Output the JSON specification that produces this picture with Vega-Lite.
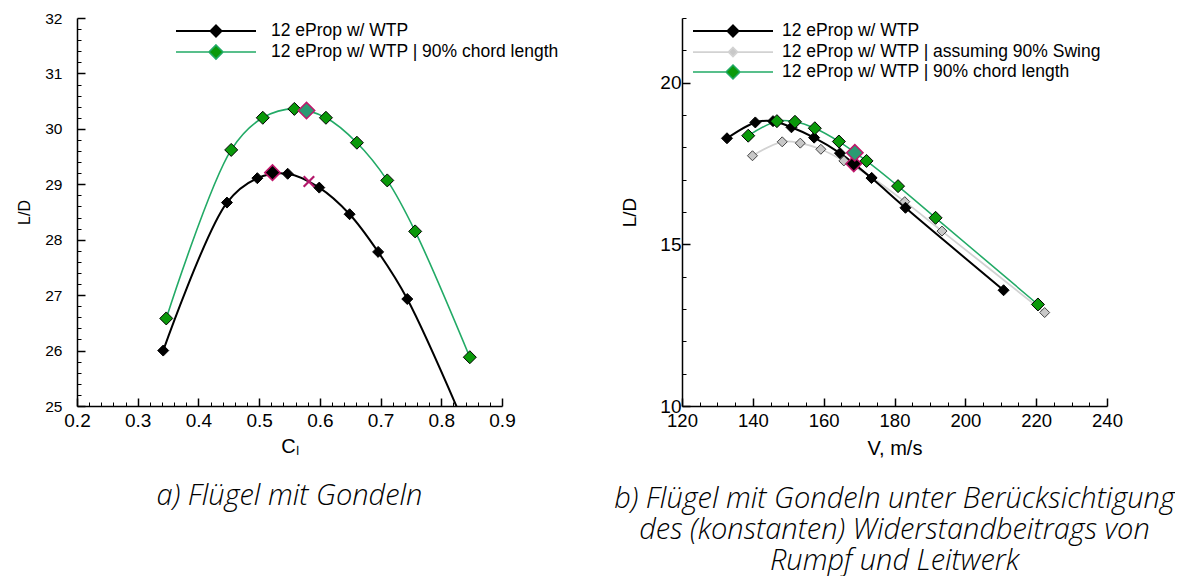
{
  "$schema": "https://vega.github.io/schema/vega-lite/v6.json",
  "padding": {"left": 16, "top": 11, "right": 0, "bottom": 0},
  "spacing": 55,
  "resolve": {
    "scale": {"stroke": "independent", "fill": "independent", "shape": "independent", "strokeWidth": "independent"},
    "legend": {"stroke": "independent", "fill": "independent", "shape": "independent", "strokeWidth": "independent"}
  },
  "hconcat": [
    {
      "width": 425,
      "height": 388,
      "title": {
        "text": "a) Flügel mit Gondeln",
        "orient": "bottom", "anchor": "middle", "frame": "group",
        "font": "Open Sans", "fontStyle": "italic", "fontWeight": 300, "fontSize": 29,
        "color": "black", "offset": 26
      },
      "data": {
        "values": [
          {"series": "12 eProp w/ WTP", "kind": "run", "cl": 0.342, "ld": 26.0},
          {"series": "12 eProp w/ WTP", "kind": "run", "cl": 0.447, "ld": 28.67},
          {"series": "12 eProp w/ WTP", "kind": "run", "cl": 0.497, "ld": 29.11},
          {"series": "12 eProp w/ WTP", "kind": "run", "cl": 0.547, "ld": 29.19},
          {"series": "12 eProp w/ WTP", "kind": "run", "cl": 0.599, "ld": 28.94},
          {"series": "12 eProp w/ WTP", "kind": "run", "cl": 0.649, "ld": 28.46},
          {"series": "12 eProp w/ WTP", "kind": "run", "cl": 0.696, "ld": 27.78},
          {"series": "12 eProp w/ WTP", "kind": "run", "cl": 0.744, "ld": 26.93},
          {"series": "12 eProp w/ WTP", "kind": "run", "cl": 0.86, "ld": 24.1},
          {"series": "12 eProp w/ WTP | 90% chord length", "kind": "run", "cl": 0.347, "ld": 26.58},
          {"series": "12 eProp w/ WTP | 90% chord length", "kind": "run", "cl": 0.454, "ld": 29.62},
          {"series": "12 eProp w/ WTP | 90% chord length", "kind": "run", "cl": 0.506, "ld": 30.2},
          {"series": "12 eProp w/ WTP | 90% chord length", "kind": "run", "cl": 0.558, "ld": 30.36},
          {"series": "12 eProp w/ WTP | 90% chord length", "kind": "run", "cl": 0.61, "ld": 30.2},
          {"series": "12 eProp w/ WTP | 90% chord length", "kind": "run", "cl": 0.661, "ld": 29.75},
          {"series": "12 eProp w/ WTP | 90% chord length", "kind": "run", "cl": 0.711, "ld": 29.07},
          {"series": "12 eProp w/ WTP | 90% chord length", "kind": "run", "cl": 0.757, "ld": 28.15},
          {"series": "12 eProp w/ WTP | 90% chord length", "kind": "run", "cl": 0.847, "ld": 25.88},
          {"series": "12 eProp w/ WTP", "kind": "design", "cl": 0.522, "ld": 29.21},
          {"series": "12 eProp w/ WTP | 90% chord length", "kind": "design", "cl": 0.578, "ld": 30.33},
          {"series": "12 eProp w/ WTP", "kind": "cross", "cl": 0.582, "ld": 29.05}
        ]
      },
      "resolve": {"axis": {"x": "independent", "y": "independent"}},
      "layer": [
        {
          "transform": [{"filter": "false"}],
          "mark": {"type": "point", "opacity": 1},
          "encoding": {
            "x": {
              "field": "cl", "type": "quantitative",
              "scale": {"domain": [0.2, 0.9], "nice": false, "zero": false},
              "axis": {
                "orient": "bottom", "title": null, "labels": false, "domain": false,
                "tickSize": -4, "tickWidth": 1,
                "values": [0.22, 0.24, 0.26, 0.28, 0.32, 0.34, 0.36, 0.38, 0.42, 0.44, 0.46, 0.48, 0.52, 0.54, 0.56, 0.58, 0.62, 0.64, 0.66, 0.68, 0.72, 0.74, 0.76, 0.78, 0.82, 0.84, 0.86, 0.88]
              }
            },
            "y": {
              "field": "ld", "type": "quantitative",
              "scale": {"domain": [25, 32], "nice": false, "zero": false},
              "axis": {
                "orient": "left", "title": null, "labels": false, "domain": false,
                "tickSize": -4, "tickWidth": 1,
                "values": [25.2, 25.4, 25.6, 25.8, 26.2, 26.4, 26.6, 26.8, 27.2, 27.4, 27.6, 27.8, 28.2, 28.4, 28.6, 28.8, 29.2, 29.4, 29.6, 29.8, 30.2, 30.4, 30.6, 30.8, 31.2, 31.4, 31.6, 31.8]
              }
            },
            "shape": {
              "field": "series", "type": "nominal",
              "scale": {
                "domain": ["12 eProp w/ WTP", "12 eProp w/ WTP | 90% chord length"],
                "range": ["M-4,0H-0.55M0.55,0H4M0,-0.55L0.55,0L0,0.55L-0.55,0Z", "M-4,0H-0.7M0.7,0H4M0,-0.7L0.7,0L0,0.7L-0.7,0Z"]
              },
              "legend": {"title": null, "orient": "none", "legendX": 99, "legendY": 2}
            }
          }
        },
        {
          "transform": [{"filter": "datum.kind === 'run'"}],
          "mark": {"type": "line", "interpolate": "catmull-rom", "clip": true},
          "encoding": {
            "x": {
              "field": "cl", "type": "quantitative",
              "axis": {
                "orient": "bottom", "title": "Cₗ", "titleFontSize": 20, "titlePadding": 6,
                "values": [0.2, 0.3, 0.4, 0.5, 0.6, 0.7, 0.8, 0.9], "format": ".1f",
                "tickSize": -8, "tickWidth": 1.5, "domainWidth": 1.5,
                "labelFontSize": 19, "labelPadding": 13
              }
            },
            "y": {
              "field": "ld", "type": "quantitative",
              "axis": {
                "orient": "left", "title": "L/D", "titleFontSize": 16, "titlePadding": 12,
                "values": [25, 26, 27, 28, 29, 30, 31, 32],
                "tickSize": -8, "tickWidth": 1.5, "domainWidth": 1.5,
                "labelFontSize": 15.5, "labelPadding": 23
              }
            },
            "stroke": {
              "field": "series", "type": "nominal",
              "scale": {"domain": ["12 eProp w/ WTP", "12 eProp w/ WTP | 90% chord length"], "range": ["#000000", "#22aa66"]},
              "legend": {"title": null, "orient": "none", "legendX": 99, "legendY": 2}
            },
            "strokeWidth": {
              "field": "series", "type": "nominal",
              "scale": {"domain": ["12 eProp w/ WTP", "12 eProp w/ WTP | 90% chord length"], "range": [2, 1.6]},
              "legend": {"title": null, "orient": "none", "legendX": 99, "legendY": 2}
            }
          }
        },
        {
          "transform": [{"filter": "datum.kind === 'run' && datum.series === '12 eProp w/ WTP'"}],
          "mark": {"type": "point", "shape": "diamond", "filled": true, "opacity": 1, "size": 121, "stroke": "#000000", "strokeWidth": 1, "clip": true},
          "encoding": {
            "x": {"field": "cl", "type": "quantitative", "axis": null},
            "y": {"field": "ld", "type": "quantitative", "axis": null},
            "fill": {
              "field": "series", "type": "nominal",
              "scale": {"domain": ["12 eProp w/ WTP", "12 eProp w/ WTP | 90% chord length"], "range": ["#000000", "#0a990a"]},
              "legend": {"title": null, "orient": "none", "legendX": 99, "legendY": 2}
            }
          }
        },
        {
          "transform": [{"filter": "datum.kind === 'run' && datum.series === '12 eProp w/ WTP | 90% chord length'"}],
          "mark": {"type": "point", "shape": "diamond", "filled": true, "opacity": 1, "size": 169, "stroke": "#000000", "strokeWidth": 1, "clip": true},
          "encoding": {
            "x": {"field": "cl", "type": "quantitative", "axis": null},
            "y": {"field": "ld", "type": "quantitative", "axis": null},
            "fill": {
              "field": "series", "type": "nominal",
              "legend": {"title": null, "orient": "none", "legendX": 99, "legendY": 2}
            }
          }
        },
        {
          "transform": [{"filter": "datum.kind === 'design' && datum.series === '12 eProp w/ WTP'"}],
          "mark": {"type": "point", "shape": "diamond", "filled": true, "opacity": 1, "size": 240, "fill": "#000000", "stroke": "#c0176c", "strokeWidth": 1.5},
          "encoding": {
            "x": {"field": "cl", "type": "quantitative", "axis": null},
            "y": {"field": "ld", "type": "quantitative", "axis": null}
          }
        },
        {
          "transform": [{"filter": "datum.kind === 'design' && datum.series === '12 eProp w/ WTP | 90% chord length'"}],
          "mark": {"type": "point", "shape": "diamond", "filled": true, "opacity": 1, "size": 270, "fill": "#2a9a72", "stroke": "#c0176c", "strokeWidth": 1.5},
          "encoding": {
            "x": {"field": "cl", "type": "quantitative", "axis": null},
            "y": {"field": "ld", "type": "quantitative", "axis": null}
          }
        },
        {
          "transform": [{"filter": "datum.kind === 'cross'"}],
          "mark": {"type": "point", "shape": "M-1,-1L1,1M1,-1L-1,1", "filled": false, "opacity": 1, "size": 110, "stroke": "#b3176a", "strokeWidth": 2.2},
          "encoding": {
            "x": {"field": "cl", "type": "quantitative", "axis": null},
            "y": {"field": "ld", "type": "quantitative", "axis": null}
          }
        }
      ]
    },
    {
      "width": 425,
      "height": 388,
      "title": {
        "text": ["b) Flügel mit Gondeln unter Berücksichtigung", "des (konstanten) Widerstandbeitrags von", "Rumpf und Leitwerk"],
        "orient": "bottom", "anchor": "middle", "frame": "group",
        "font": "Open Sans", "fontStyle": "italic", "fontWeight": 300, "fontSize": 29, "lineHeight": 31,
        "color": "black", "offset": 26
      },
      "data": {
        "values": [
          {"series": "12 eProp w/ WTP | assuming 90% Swing", "kind": "run", "v": 139.9, "ld": 17.74},
          {"series": "12 eProp w/ WTP | assuming 90% Swing", "kind": "run", "v": 148.3, "ld": 18.17},
          {"series": "12 eProp w/ WTP | assuming 90% Swing", "kind": "run", "v": 153.4, "ld": 18.13},
          {"series": "12 eProp w/ WTP | assuming 90% Swing", "kind": "run", "v": 159.2, "ld": 17.94},
          {"series": "12 eProp w/ WTP | assuming 90% Swing", "kind": "run", "v": 165.7, "ld": 17.58},
          {"series": "12 eProp w/ WTP | assuming 90% Swing", "kind": "run", "v": 173.6, "ld": 17.07},
          {"series": "12 eProp w/ WTP | assuming 90% Swing", "kind": "run", "v": 182.9, "ld": 16.32},
          {"series": "12 eProp w/ WTP | assuming 90% Swing", "kind": "run", "v": 193.4, "ld": 15.41},
          {"series": "12 eProp w/ WTP | assuming 90% Swing", "kind": "run", "v": 222.4, "ld": 12.89},
          {"series": "12 eProp w/ WTP", "kind": "run", "v": 132.7, "ld": 18.28},
          {"series": "12 eProp w/ WTP", "kind": "run", "v": 140.7, "ld": 18.77},
          {"series": "12 eProp w/ WTP", "kind": "run", "v": 145.7, "ld": 18.81},
          {"series": "12 eProp w/ WTP", "kind": "run", "v": 150.9, "ld": 18.62},
          {"series": "12 eProp w/ WTP", "kind": "run", "v": 157.3, "ld": 18.3},
          {"series": "12 eProp w/ WTP", "kind": "run", "v": 164.6, "ld": 17.82},
          {"series": "12 eProp w/ WTP", "kind": "run", "v": 173.5, "ld": 17.05},
          {"series": "12 eProp w/ WTP", "kind": "run", "v": 183.1, "ld": 16.13},
          {"series": "12 eProp w/ WTP", "kind": "run", "v": 210.8, "ld": 13.58},
          {"series": "12 eProp w/ WTP | 90% chord length", "kind": "run", "v": 138.7, "ld": 18.36},
          {"series": "12 eProp w/ WTP | 90% chord length", "kind": "run", "v": 146.8, "ld": 18.81},
          {"series": "12 eProp w/ WTP | 90% chord length", "kind": "run", "v": 151.9, "ld": 18.79},
          {"series": "12 eProp w/ WTP | 90% chord length", "kind": "run", "v": 157.5, "ld": 18.59},
          {"series": "12 eProp w/ WTP | 90% chord length", "kind": "run", "v": 164.3, "ld": 18.18},
          {"series": "12 eProp w/ WTP | 90% chord length", "kind": "run", "v": 172.1, "ld": 17.58},
          {"series": "12 eProp w/ WTP | 90% chord length", "kind": "run", "v": 181.0, "ld": 16.8},
          {"series": "12 eProp w/ WTP | 90% chord length", "kind": "run", "v": 191.6, "ld": 15.82},
          {"series": "12 eProp w/ WTP | 90% chord length", "kind": "run", "v": 220.5, "ld": 13.14},
          {"series": "12 eProp w/ WTP", "kind": "design", "v": 168.5, "ld": 17.49},
          {"series": "12 eProp w/ WTP | 90% chord length", "kind": "design", "v": 168.8, "ld": 17.83}
        ]
      },
      "resolve": {"axis": {"x": "independent", "y": "independent"}},
      "layer": [
        {
          "transform": [{"filter": "false"}],
          "mark": {"type": "point", "opacity": 1},
          "encoding": {
            "x": {
              "field": "v", "type": "quantitative",
              "scale": {"domain": [120, 240], "nice": false, "zero": false},
              "axis": {
                "orient": "bottom", "title": null, "labels": false, "domain": false,
                "tickSize": -4, "tickWidth": 1,
                "values": [125, 130, 135, 145, 150, 155, 165, 170, 175, 185, 190, 195, 205, 210, 215, 225, 230, 235]
              }
            },
            "y": {
              "field": "ld", "type": "quantitative",
              "scale": {"domain": [10, 22], "nice": false, "zero": false},
              "axis": {
                "orient": "left", "title": null, "labels": false, "domain": false,
                "tickSize": -4, "tickWidth": 1,
                "values": [11, 12, 13, 14, 16, 17, 18, 19, 21, 22]
              }
            },
            "shape": {
              "field": "series", "type": "nominal",
              "scale": {
                "domain": ["12 eProp w/ WTP", "12 eProp w/ WTP | assuming 90% Swing", "12 eProp w/ WTP | 90% chord length"],
                "range": ["M-4,0H-0.55M0.55,0H4M0,-0.55L0.55,0L0,0.55L-0.55,0Z", "M-4,0H-0.45M0.45,0H4M0,-0.45L0.45,0L0,0.45L-0.45,0Z", "M-4,0H-0.7M0.7,0H4M0,-0.7L0.7,0L0,0.7L-0.7,0Z"]
              },
              "legend": {"title": null, "orient": "none", "legendX": 11, "legendY": 2, "labelOffset": 38}
            }
          }
        },
        {
          "transform": [{"filter": "datum.kind === 'run'"}],
          "mark": {"type": "line", "interpolate": "catmull-rom", "clip": true},
          "encoding": {
            "x": {
              "field": "v", "type": "quantitative",
              "axis": {
                "orient": "bottom", "title": "V, m/s", "titleFontSize": 20, "titlePadding": 9,
                "values": [120, 140, 160, 180, 200, 220, 240],
                "tickSize": -8, "tickWidth": 1.5, "domainWidth": 1.5,
                "labelFontSize": 18.5, "labelPadding": 13
              }
            },
            "y": {
              "field": "ld", "type": "quantitative",
              "axis": {
                "orient": "left", "title": "L/D", "titleFontSize": 19, "titlePadding": 20,
                "values": [10, 15, 20],
                "tickSize": -8, "tickWidth": 1.5, "domainWidth": 1.5,
                "labelFontSize": 19, "labelPadding": 9
              }
            },
            "stroke": {
              "field": "series", "type": "nominal",
              "scale": {
                "domain": ["12 eProp w/ WTP", "12 eProp w/ WTP | assuming 90% Swing", "12 eProp w/ WTP | 90% chord length"],
                "range": ["#000000", "#d2d2d2", "#22aa66"]
              },
              "legend": {"title": null, "orient": "none", "legendX": 11, "legendY": 2, "labelOffset": 38}
            },
            "strokeWidth": {
              "field": "series", "type": "nominal",
              "scale": {
                "domain": ["12 eProp w/ WTP", "12 eProp w/ WTP | assuming 90% Swing", "12 eProp w/ WTP | 90% chord length"],
                "range": [2, 1.5, 1.6]
              },
              "legend": {"title": null, "orient": "none", "legendX": 11, "legendY": 2, "labelOffset": 38}
            }
          }
        },
        {
          "transform": [{"filter": "datum.kind === 'run' && datum.series === '12 eProp w/ WTP | assuming 90% Swing'"}],
          "mark": {"type": "point", "shape": "diamond", "filled": true, "opacity": 1, "size": 100, "stroke": "#444444", "strokeWidth": 1, "clip": true},
          "encoding": {
            "x": {"field": "v", "type": "quantitative", "axis": null},
            "y": {"field": "ld", "type": "quantitative", "axis": null},
            "fill": {
              "field": "series", "type": "nominal",
              "scale": {
                "domain": ["12 eProp w/ WTP", "12 eProp w/ WTP | assuming 90% Swing", "12 eProp w/ WTP | 90% chord length"],
                "range": ["#000000", "#c8c8c8", "#0a990a"]
              },
              "legend": {"title": null, "orient": "none", "legendX": 11, "legendY": 2, "labelOffset": 38}
            }
          }
        },
        {
          "transform": [{"filter": "datum.kind === 'run' && datum.series === '12 eProp w/ WTP'"}],
          "mark": {"type": "point", "shape": "diamond", "filled": true, "opacity": 1, "size": 121, "stroke": "#000000", "strokeWidth": 1, "clip": true},
          "encoding": {
            "x": {"field": "v", "type": "quantitative", "axis": null},
            "y": {"field": "ld", "type": "quantitative", "axis": null},
            "fill": {
              "field": "series", "type": "nominal",
              "legend": {"title": null, "orient": "none", "legendX": 11, "legendY": 2, "labelOffset": 38}
            }
          }
        },
        {
          "transform": [{"filter": "datum.kind === 'run' && datum.series === '12 eProp w/ WTP | 90% chord length'"}],
          "mark": {"type": "point", "shape": "diamond", "filled": true, "opacity": 1, "size": 169, "stroke": "#000000", "strokeWidth": 1, "clip": true},
          "encoding": {
            "x": {"field": "v", "type": "quantitative", "axis": null},
            "y": {"field": "ld", "type": "quantitative", "axis": null},
            "fill": {
              "field": "series", "type": "nominal",
              "legend": {"title": null, "orient": "none", "legendX": 11, "legendY": 2, "labelOffset": 38}
            }
          }
        },
        {
          "transform": [{"filter": "datum.kind === 'design' && datum.series === '12 eProp w/ WTP'"}],
          "mark": {"type": "point", "shape": "diamond", "filled": true, "opacity": 1, "size": 240, "fill": "#000000", "stroke": "#c0176c", "strokeWidth": 1.5},
          "encoding": {
            "x": {"field": "v", "type": "quantitative", "axis": null},
            "y": {"field": "ld", "type": "quantitative", "axis": null}
          }
        },
        {
          "transform": [{"filter": "datum.kind === 'design' && datum.series === '12 eProp w/ WTP | 90% chord length'"}],
          "mark": {"type": "point", "shape": "diamond", "filled": true, "opacity": 1, "size": 270, "fill": "#2a9a72", "stroke": "#c0176c", "strokeWidth": 1.5},
          "encoding": {
            "x": {"field": "v", "type": "quantitative", "axis": null},
            "y": {"field": "ld", "type": "quantitative", "axis": null}
          }
        }
      ]
    }
  ],
  "config": {
    "view": {"stroke": null},
    "font": "Liberation Sans",
    "axis": {
      "grid": false, "labelFlush": false, "labelOverlap": false, "labelBound": false,
      "domainColor": "#000000", "tickColor": "#000000", "labelColor": "#000000", "titleColor": "#000000",
      "titleFontWeight": "normal", "labelFont": "Liberation Sans", "titleFont": "Liberation Sans"
    },
    "legend": {
      "symbolSize": 400, "symbolOffset": 29, "labelOffset": 44,
      "labelFontSize": 17.5, "labelFont": "Liberation Sans", "labelColor": "#000000",
      "padding": 0, "rowPadding": -1, "labelLimit": 700
    }
  }
}
